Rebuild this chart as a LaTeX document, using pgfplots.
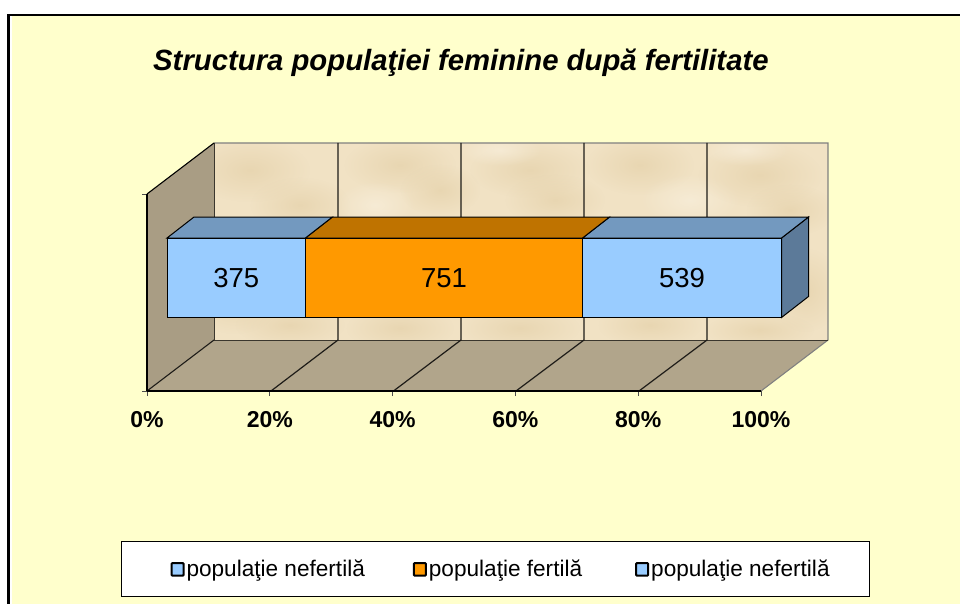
\documentclass[border=0pt]{standalone}
\usepackage{pgfplots}
\pgfplotsset{compat=1.18}
\usetikzlibrary{fadings}
\usepackage{fontspec}
\setmainfont{Liberation Sans}
\tikzfading[name=blob,inner color=transparent!35,outer color=transparent!100]
\definecolor{bgy}{HTML}{FFFFCC}
\definecolor{wallback}{HTML}{F1E2C4}
\definecolor{blotch}{HTML}{E4D0A8}
\definecolor{blotchl}{HTML}{F9F0DE}
\definecolor{wallleft}{HTML}{A99D84}
\definecolor{wallfloor}{HTML}{B1A58B}
\definecolor{barblue}{HTML}{99CCFF}
\definecolor{barorange}{HTML}{FF9900}
\definecolor{topblue}{HTML}{7399BF}
\definecolor{toporange}{HTML}{BF7300}
\definecolor{sideblue}{HTML}{5C7A99}
\begin{document}
\begin{tikzpicture}[x=1pt,y=-1pt]
\path[use as bounding box,fill=white] (0,0) rectangle (960,604);
% frame
\fill[bgy] (12,16) rectangle (960,604);
\draw[black,line width=1.7pt] (7,15.1) -- (960,15.1);
\draw[black,line width=2.4pt] (8.4,15) -- (8.4,604);
% title
\node[anchor=base west,inner sep=0pt,font=\fontsize{29.3}{29.3}\selectfont\bfseries\itshape] at (153,71) {Structura populaţiei feminine după fertilitate};
% walls
\fill[wallback] (214,143) rectangle (828,340);
\begin{scope}
\clip (214,143) rectangle (828,340);
\foreach \cx/\cy/\rx/\ry/\c in {
  250/170/60/32/blotch, 300/205/50/28/blotch, 235/300/45/34/blotch, 290/325/55/22/blotch,
  400/165/56/28/blotch, 375/205/40/24/blotchl, 440/190/40/26/blotch, 400/328/54/22/blotch,
  530/170/60/28/blotch, 555/200/50/26/blotch, 500/150/42/16/blotchl, 520/328/60/22/blotch,
  640/165/54/30/blotch, 690/200/50/26/blotchl, 650/325/52/22/blotch,
  760/175/62/32/blotch, 790/210/44/26/blotch, 805/290/36/42/blotch, 745/150/44/16/blotchl, 760/330/54/18/blotch}{
  \fill[\c,path fading=blob] (\cx,\cy) ellipse [x radius=\rx pt,y radius=\ry pt];
}
\end{scope}
\fill[wallleft] (147,194) -- (214,143) -- (214,340) -- (147,391) -- cycle;
\fill[wallfloor] (147,391) -- (214,340) -- (828,340) -- (761,391) -- cycle;
\draw[gray,line width=1.1pt] (214,143) -- (828,143) -- (828,340) -- (761,391);
\draw[black!65!wallleft,line width=0.9pt] (214,143) -- (214,340) -- (828,340);
\draw[black,line width=1.1pt] (147,194) -- (214,143);
\foreach \a/\b in {338/271,461/393.5,584/516,707/639}{
  \draw[black!82!wallleft,line width=1.2pt] (\a,143) -- (\a,340) -- (\b,391);
}
\draw[black!82!wallleft,line width=1.1pt] (147,391) -- (214,340);
% legend box
\draw[black,fill=white,line width=0.9pt] (121,541) rectangle (869,596);
% percent axis
\begin{axis}[
  at={(147pt,-391pt)},anchor=south west,
  scale only axis,width=614pt,height=197pt,
  xmin=0,xmax=100,ymin=0,ymax=1,
  axis x line*=bottom,axis y line*=left,
  axis line style={black,line width=1.2pt,-},
  xtick={0,20,40,60,80,100},ytick={0,1},yticklabels={},
  xticklabel={\pgfmathprintnumber{\tick}\%},
  tick align=outside,tick pos=left,
  major tick length=5pt,
  tick style={black!70,line width=1pt},
  /pgf/number format/assume math mode=true,
  xticklabel style={font=\fontsize{23}{23}\selectfont\bfseries,yshift=-11.5pt},
]
\end{axis}
% stacked bar
\begin{axis}[
  at={(167pt,-317.5pt)},anchor=south west,
  scale only axis,width=614.5pt,height=79.5pt,
  xmin=0,xmax=1665,ymin=-0.5,ymax=0.5,
  hide axis,clip=false,
  xbar stacked,bar width=79.5pt,
  ytick={0},
  legend style={draw=none,fill=none,at={(0.0005,-3.165)},anchor=west,
    font=\fontsize{22.6}{22.6}\selectfont,legend columns=3,
    /tikz/column 2/.style={column sep=46pt},
    /tikz/column 4/.style={column sep=51pt}},
  nodes near coords,
  nodes near coords style={black,anchor=center,yshift=-0.5pt,font=\fontsize{27.5}{27.5}\selectfont,/pgf/number format/assume math mode=true},
]
\addplot[draw=black,line width=1pt,fill=barblue,
  legend image code/.code={\draw[black,line width=2pt,fill=barblue,rounded corners=0.8pt](-1pt,-6.5pt) rectangle (11pt,6pt);}]
  coordinates {(375,0)};
\addlegendentry{populaţie nefertilă}
\addplot[draw=black,line width=1pt,fill=barorange,
  legend image code/.code={\draw[black,line width=2pt,fill=barorange,rounded corners=0.8pt](-1pt,-6.5pt) rectangle (11pt,6pt);}]
  coordinates {(751,0)};
\addlegendentry{populaţie fertilă}
\addplot[draw=black,line width=1pt,fill=barblue,
  legend image code/.code={\draw[black,line width=2pt,fill=barblue,rounded corners=0.8pt](-1pt,-6.5pt) rectangle (11pt,6pt);}]
  coordinates {(539,0)};
\addlegendentry{populaţie nefertilă}
\tikzset{dep/.style={shift={(27pt,21pt)}}}
\filldraw[fill=topblue,draw=black,line width=1pt] (axis cs:0,0.5) -- (axis cs:375,0.5) -- ([dep]axis cs:375,0.5) -- ([dep]axis cs:0,0.5) -- cycle;
\filldraw[fill=toporange,draw=black,line width=1pt] (axis cs:375,0.5) -- (axis cs:1126,0.5) -- ([dep]axis cs:1126,0.5) -- ([dep]axis cs:375,0.5) -- cycle;
\filldraw[fill=topblue,draw=black,line width=1pt] (axis cs:1126,0.5) -- (axis cs:1665,0.5) -- ([dep]axis cs:1665,0.5) -- ([dep]axis cs:1126,0.5) -- cycle;
\filldraw[fill=sideblue,draw=black,line width=1pt] (axis cs:1665,-0.5) -- (axis cs:1665,0.5) -- ([dep]axis cs:1665,0.5) -- ([dep]axis cs:1665,-0.5) -- cycle;
\end{axis}
\end{tikzpicture}
\end{document}
